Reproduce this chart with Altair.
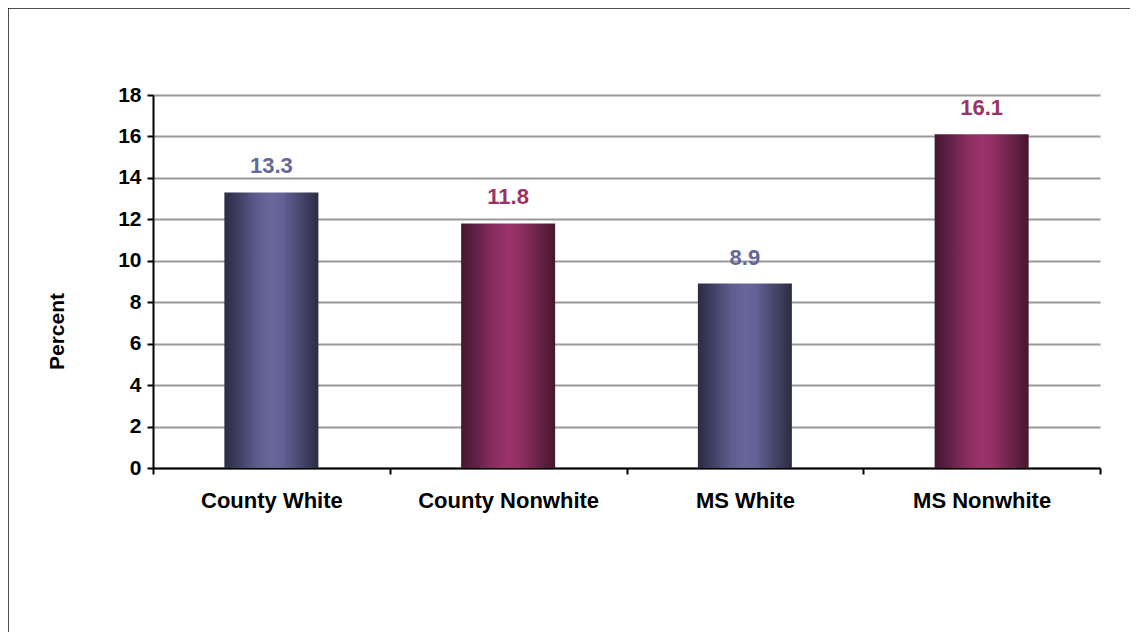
import altair as alt
import pandas as pd

categories = ["County White", "County Nonwhite", "MS White", "MS Nonwhite"]
values = [13.3, 11.8, 8.9, 16.1]
groups = ["White", "Nonwhite", "White", "Nonwhite"]
y_ticks = [0, 2, 4, 6, 8, 10, 12, 14, 16, 18]

df = pd.DataFrame({"cat": categories, "val": values, "grp": groups})

FONT = "Liberation Sans"
PLOT_W, PLOT_H = 947, 373

blue_grad = alt.LinearGradient(
    gradient="linear", x1=0, x2=1, y1=0, y2=0,
    stops=[
        alt.GradientStop(offset=0.0, color="#2c2c45"),
        alt.GradientStop(offset=0.15, color="#3e3e60"),
        alt.GradientStop(offset=0.35, color="#5d5d8e"),
        alt.GradientStop(offset=0.5, color="#67679c"),
        alt.GradientStop(offset=0.62, color="#626295"),
        alt.GradientStop(offset=0.82, color="#45456a"),
        alt.GradientStop(offset=1.0, color="#2c2c44"),
    ],
)
maroon_grad = alt.LinearGradient(
    gradient="linear", x1=0, x2=1, y1=0, y2=0,
    stops=[
        alt.GradientStop(offset=0.0, color="#46172f"),
        alt.GradientStop(offset=0.15, color="#5e2045"),
        alt.GradientStop(offset=0.35, color="#8b2d5f"),
        alt.GradientStop(offset=0.5, color="#9a336a"),
        alt.GradientStop(offset=0.62, color="#933064"),
        alt.GradientStop(offset=0.82, color="#692448"),
        alt.GradientStop(offset=1.0, color="#45172e"),
    ],
)

x_enc = alt.X(
    "cat:N", sort=categories, title=None,
    scale=alt.Scale(paddingInner=0, paddingOuter=0),
    axis=alt.Axis(
        labelAngle=0, labelFont=FONT, labelFontSize=22, labelFontWeight="bold",
        labelColor="black", labelPadding=16, labelLimit=400, tickBand="extent",
        ticks=True, tickSize=6, tickColor="black", tickWidth=2,
        domainColor="black", domainWidth=2, grid=False,
    ),
)
y_enc = alt.Y(
    "val:Q", title="Percent",
    scale=alt.Scale(domain=[0, 18], nice=False),
    axis=alt.Axis(
        values=y_ticks, labelFont=FONT, labelFontSize=21, labelFontWeight="bold",
        labelColor="black", labelPadding=6, tickSize=6, tickColor="black",
        tickWidth=2, domainColor="black", domainWidth=2, grid=True,
        gridColor="#999999", gridWidth=2, titleFont=FONT, titleFontSize=21,
        titleFontWeight="bold", titleColor="black", titleX=-96, titleY=236,
        titleAngle=-90, titleBaseline="middle", titleAlign="center",
    ),
)

base = alt.Chart(df)

bars_white = base.transform_filter(alt.datum.grp == "White").mark_bar(
    size=94, color=blue_grad
).encode(x=x_enc, y=y_enc)
bars_non = base.transform_filter(alt.datum.grp == "Nonwhite").mark_bar(
    size=94, color=maroon_grad
).encode(x=x_enc, y=y_enc)

labels = base.mark_text(
    font=FONT, fontSize=22, fontWeight="bold", baseline="middle", dy=-26
).encode(
    x=alt.X("cat:N", sort=categories),
    y="val:Q",
    text=alt.Text("val:Q", format=".1f"),
    color=alt.Color("grp:N", scale=alt.Scale(domain=["White", "Nonwhite"],
                                             range=["#666699", "#993366"]),
                    legend=None),
)

frame = base.mark_rect(fill=None, stroke="black", strokeWidth=1.5).encode(
    x=alt.value(-145.5), x2=alt.value(1010),
    y=alt.value(-87.5), y2=alt.value(700),
)

chart = alt.layer(bars_white, bars_non, labels, frame).properties(
    width=PLOT_W, height=PLOT_H,
    autosize=alt.AutoSizeParams(type="none"),
    padding={"left": 145, "top": 87, "right": 30, "bottom": 164},
    background="white",
).configure_view(stroke=None)

chart.save("out.html", embed_options={"renderer": "svg", "actions": False})
